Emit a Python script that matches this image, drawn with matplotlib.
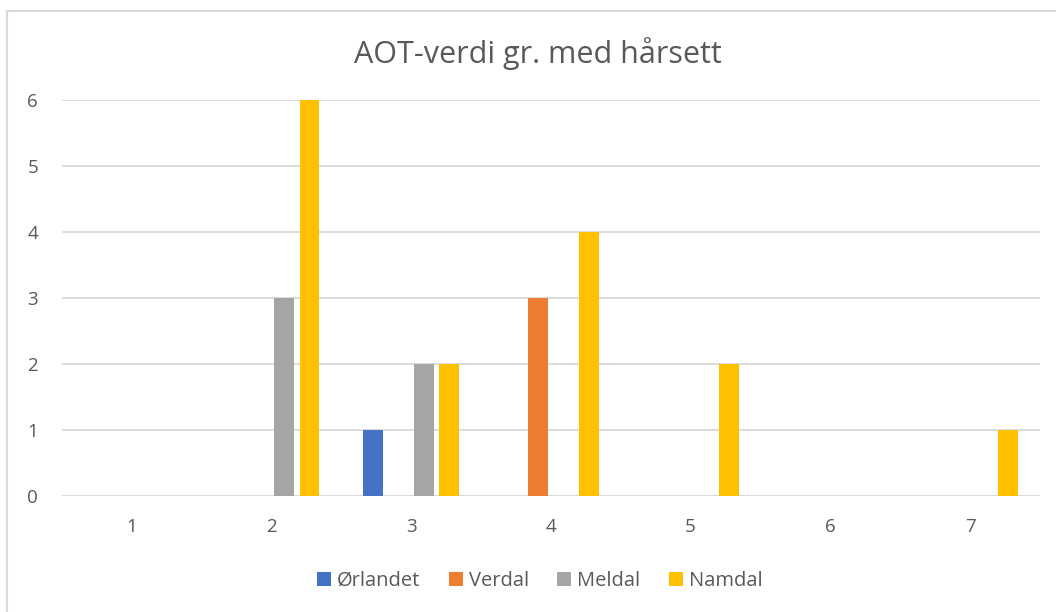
import matplotlib
matplotlib.use("Agg")
import matplotlib.pyplot as plt
from matplotlib.patches import Rectangle
import numpy as np

plt.rcParams["font.family"] = ["Open Sans", "DejaVu Sans"]

categories = ["1", "2", "3", "4", "5", "6", "7"]
series_names = ["Ørlandet", "Verdal", "Meldal", "Namdal"]
orlandet = [0, 0, 1, 0, 0, 0, 0]
verdal = [0, 0, 0, 3, 0, 0, 0]
meldal = [0, 3, 2, 0, 0, 0, 0]
namdal = [0, 6, 2, 4, 2, 0, 1]
colors = ["#4472C4", "#ED7D31", "#A5A5A5", "#FFC000"]
title = "AOT-verdi gr. med hårsett"

text_col = "#595959"
grid_col = "#D9D9D9"

fig = plt.figure(figsize=(10.56, 6.12), dpi=100)
ax = fig.add_axes([0.0584, 0.1895, 0.9264, 0.6463])

# chart border (cut off at right / bottom like the screenshot)
fig.patches.append(Rectangle((7 / 1056, -0.05), 1.2, 1 - 11 / 612 + 0.05,
                             transform=fig.transFigure, fill=False,
                             edgecolor=grid_col, linewidth=1.5))

x = np.arange(1, len(categories) + 1)
step, width = 0.182, 0.141
for i, (name, vals) in enumerate(zip(series_names, [orlandet, verdal, meldal, namdal])):
    ax.bar(x + (i - 1.5) * step, vals, width=width, color=colors[i], label=name, zorder=3)

ax.set_xlim(0.5, 7.5)
ax.set_ylim(0, 6)
ax.set_xticks(x)
ax.set_xticklabels(categories)
ax.set_yticks(range(0, 7))
ax.yaxis.grid(True, color=grid_col, linewidth=1.3, zorder=0)
for s in ax.spines.values():
    s.set_visible(False)
ax.axhline(0, color=grid_col, linewidth=1.3, zorder=1)
ax.tick_params(axis="both", length=0, labelsize=13.5, labelcolor=text_col)
ax.tick_params(axis="y", pad=17)
ax.tick_params(axis="x", pad=16)

fig.text(0.509, 0.912, title, ha="center", va="center", fontsize=22, color=text_col)

leg = fig.legend(loc="center", bbox_to_anchor=(0.511, 0.0507), ncol=4, frameon=False,
                 fontsize=14.5, handlelength=0.7, handleheight=0.7,
                 handletextpad=0.3, columnspacing=1.4)
for t in leg.get_texts():
    t.set_color(text_col)

fig.savefig("out.png", dpi=100)
